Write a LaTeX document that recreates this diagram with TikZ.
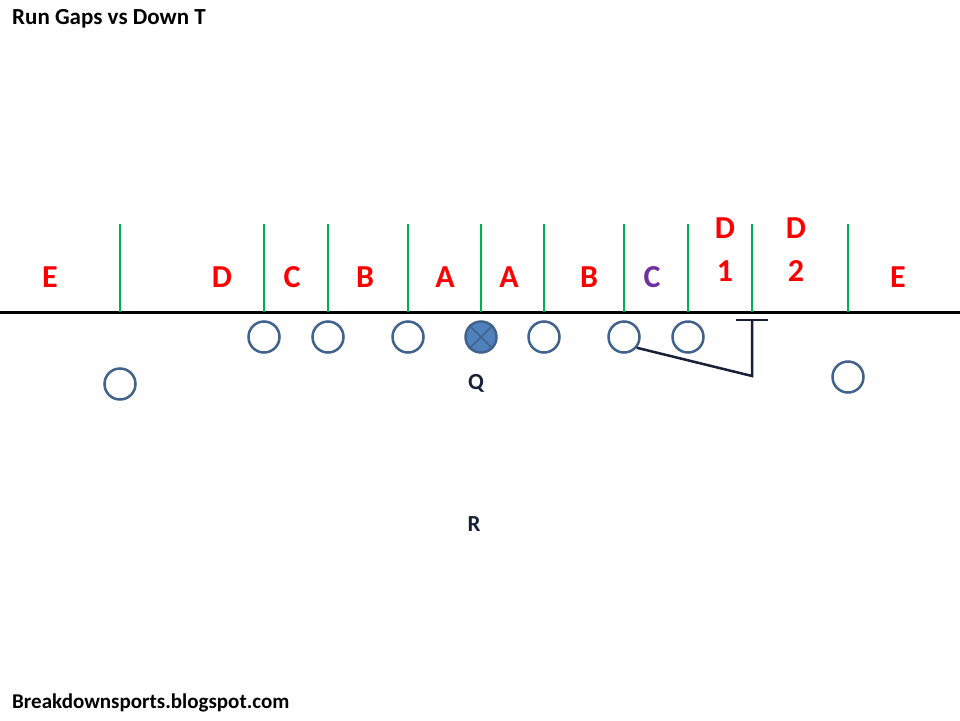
\documentclass[tikz,border=0pt]{standalone}
\usepackage{fontspec}
\setmainfont{Carlito}

\definecolor{gapred}{RGB}{255,0,0}
\definecolor{gapgreen}{RGB}{0,176,80}
\definecolor{gappurple}{RGB}{112,48,160}
\definecolor{playerblue}{RGB}{65,98,141}
\definecolor{playerfill}{RGB}{79,129,189}
\definecolor{blocknavy}{RGB}{23,32,56}

\tikzset{
  gap/.style={text=gapred, font=\fontsize{32}{34}\selectfont\bfseries, inner sep=0pt},
  gapline/.style={gapgreen, line width=2.8pt},
  player/.style={circle, draw=playerblue, line width=2.5pt, minimum size=31pt, inner sep=0pt, fill=white},
  back/.style={text=blocknavy, font=\fontsize{23}{25}\selectfont\bfseries, inner sep=0pt}
}

\begin{document}
\begin{tikzpicture}[x=1pt, y=-1pt]
        \useasboundingbox[fill=white] (0,0) rectangle (960,720);
        \node[anchor=west, inner sep=0pt, font=\fontsize{23}{25}\selectfont\bfseries] (title) at (12,19) {Run Gaps vs Down T};
        \node[anchor=west, inner sep=0pt, font=\fontsize{21}{23}\selectfont\bfseries] (site) at (12,703) {Breakdownsports.blogspot.com};
        % line of scrimmage
        \draw [line width=3pt] (0,312) -- (960,312);
        \draw [gapline] (120,224) -- (120,312);
        \draw [gapline] (264,224) -- (264,312);
        \draw [gapline] (328,224) -- (328,312);
        \draw [gapline] (408,224) -- (408,312);
        \draw [gapline] (481,224) -- (481,312);
        \draw [gapline] (544,224) -- (544,312);
        \draw [gapline] (624,224) -- (624,312);
        \draw [gapline] (688,224) -- (688,312);
        \draw [gapline] (752,224) -- (752,312);
        \draw [gapline] (848,224) -- (848,312);
        % gaps
        \node [gap] (lE) at (50,277) {E};
        \node [gap] (lD) at (222,277) {D};
        \node [gap] (lC) at (292,277) {C};
        \node [gap] (lB) at (365,277) {B};
        \node [gap] (lA) at (445,277) {A};
        \node [gap] (rA) at (509,277) {A};
        \node [gap] (rB) at (589,277) {B};
        \node [gap, text=gappurple] (rC) at (652,277) {C};
        \node [gap] (rD1) at (725,228) {D};
        \node [gap] (rD1n) at (725,271) {1};
        \node [gap] (rD2) at (796,228) {D};
        \node [gap] (rD2n) at (796,271) {2};
        \node [gap] (rE) at (898,277) {E};
        % offense
        \node [player] (p1) at (264,337) {};
        \node [player] (p2) at (328,337) {};
        \node [player] (p3) at (408,337) {};
        \node [player, fill=playerfill] (ctr) at (481,337) {};
        \draw [playerblue, line width=1.5pt] (ctr.45) -- (ctr.225) (ctr.135) -- (ctr.315);
        \node [player] (p5) at (544,337) {};
        \node [player] (p6) at (624,337) {};
        \node [player] (p7) at (688,337) {};
        \node [player] (wl) at (120,384) {};
        \node [player] (wr) at (848,377) {};
        \node [back] (qb) at (476,383) {Q};
        \node [back] (rb) at (474,524) {R};
        % block on the down T
        \coordinate (corner) at (752,376);
        \coordinate (tip) at (752,320);
        \draw [blocknavy, line width=2.5pt] (p6.-40) -- (corner) -- (tip);
        \draw [blocknavy, line width=2.5pt] ([xshift=-16pt]tip) -- ([xshift=16pt]tip);
   \end{tikzpicture}
\end{document}
